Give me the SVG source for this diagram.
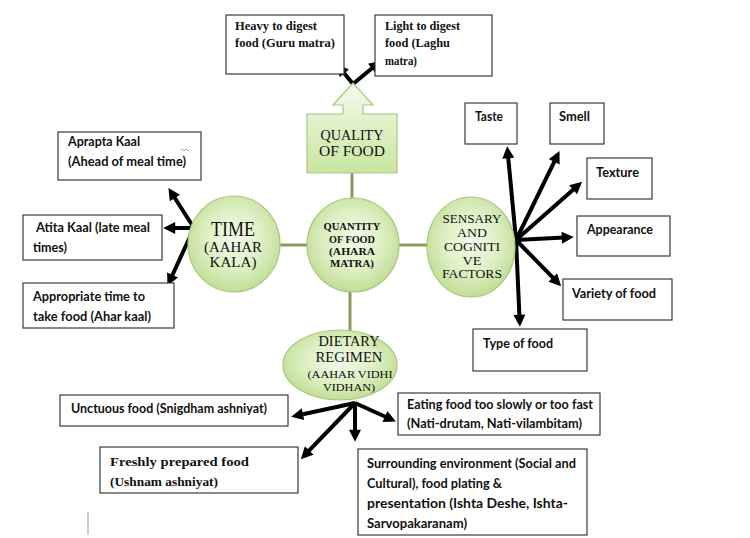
<svg xmlns="http://www.w3.org/2000/svg" width="750" height="538" viewBox="0 0 750 538">
<defs>
<radialGradient id="gc" cx="50%" cy="45%" r="55%">
<stop offset="0" stop-color="#f3fae8"/>
<stop offset="0.55" stop-color="#dff0c6"/>
<stop offset="1" stop-color="#c0de95"/>
</radialGradient>
<linearGradient id="gq" x1="0" y1="0" x2="0" y2="1">
<stop offset="0" stop-color="#f4fbec"/>
<stop offset="1" stop-color="#c8e69f"/>
</linearGradient>
<marker id="ah" viewBox="0 0 10 10" refX="6" refY="5" markerWidth="3.4" markerHeight="3" markerUnits="strokeWidth" orient="auto">
<path d="M0,0 L10,5 L0,10 z" fill="#000"/>
</marker>
<style>
.box{fill:#fff;stroke:#3a3a3a;stroke-width:1.2}
.green{fill:url(#gc);stroke:#a8c77e;stroke-width:1.2}
.t{font-family:Lato,"Noto Sans","Liberation Sans",sans-serif;font-weight:bold;font-size:14px;fill:#111}
.ts{font-family:"Liberation Serif","Times New Roman",serif;font-weight:bold;font-size:13px;fill:#111}
.c{font-family:"Liberation Serif","Times New Roman",serif;fill:#111;text-anchor:middle}
.conn{stroke:#8c9a5e;stroke-width:3;fill:none}
.arr{stroke:#000;stroke-width:4;fill:none;marker-end:url(#ah)}
</style>
</defs>
<rect width="750" height="538" fill="#fff"/>

<g id="connectors">
<line class="conn" x1="352" y1="173" x2="352" y2="200"/>
<line class="conn" x1="350" y1="290" x2="350" y2="332"/>
<line class="conn" x1="279" y1="245" x2="308" y2="245"/>
<line class="conn" x1="399" y1="245" x2="428" y2="245"/>
<line class="arr" x1="353" y1="84" x2="339.8" y2="67.7"/>
<line class="arr" x1="353" y1="84" x2="377.4" y2="63.8"/>
<line class="arr" x1="194" y1="228" x2="171" y2="192"/>
<line class="arr" x1="194" y1="228" x2="168" y2="228"/>
<line class="arr" x1="194" y1="228" x2="169.5" y2="281.5"/>
<line class="arr" x1="516" y1="240" x2="507.6" y2="151"/>
<line class="arr" x1="516" y1="240" x2="557.4" y2="155.4"/>
<line class="arr" x1="516" y1="240" x2="578.5" y2="185"/>
<line class="arr" x1="516" y1="240" x2="569" y2="237.3"/>
<line class="arr" x1="516" y1="240" x2="557.8" y2="282.7"/>
<line class="arr" x1="516" y1="240" x2="519.7" y2="322"/>
<line class="arr" x1="355" y1="403" x2="295.9" y2="415.7"/>
<line class="arr" x1="355" y1="403" x2="304.2" y2="455.7"/>
<line class="arr" x1="355" y1="403" x2="355" y2="437"/>
<line class="arr" x1="355" y1="403" x2="391.5" y2="419.5"/>
</g>

<g id="quality">
<path d="M307,114 L343,114 L343,105 L333,105 L353,83 L373,105 L363,105 L363,114 L397,114 L397,173 L307,173 Z" fill="url(#gq)" stroke="#a8c77e" stroke-width="1.2"/>
<text class="c" font-size="15" x="352" y="140" textLength="63" lengthAdjust="spacingAndGlyphs">QUALITY</text>
<text class="c" font-size="15" x="352" y="156" textLength="66" lengthAdjust="spacingAndGlyphs">OF FOOD</text>
</g>

<g id="heavy">
<rect class="box" x="226" y="15" width="118" height="59"/>
<text class="ts" x="235" y="30" textLength="82" lengthAdjust="spacingAndGlyphs">Heavy to digest</text>
<text class="ts" x="235" y="47" textLength="100" lengthAdjust="spacingAndGlyphs">food (Guru matra)</text>
</g>
<g id="light">
<rect class="box" x="375" y="15" width="117" height="61"/>
<text class="ts" x="385" y="30" textLength="75" lengthAdjust="spacingAndGlyphs">Light to digest</text>
<text class="ts" x="385" y="47" textLength="65" lengthAdjust="spacingAndGlyphs">food (Laghu</text>
<text class="ts" x="385" y="65" textLength="32" lengthAdjust="spacingAndGlyphs">matra)</text>
</g>

<g id="time">
<ellipse class="green" cx="234" cy="244" rx="46" ry="48"/>
<text class="c" font-size="20" x="233" y="236" textLength="44" lengthAdjust="spacingAndGlyphs">TIME</text>
<text class="c" font-size="14" x="233" y="252" textLength="58" lengthAdjust="spacingAndGlyphs">(AAHAR</text>
<text class="c" font-size="14" x="233" y="267" textLength="47" lengthAdjust="spacingAndGlyphs">KALA)</text>
</g>

<g id="quantity">
<ellipse class="green" cx="353" cy="245" rx="46" ry="47"/>
<text class="c" font-size="11" font-weight="bold" x="352" y="230" textLength="57" lengthAdjust="spacingAndGlyphs">QUANTITY</text>
<text class="c" font-size="11" font-weight="bold" x="352" y="243" textLength="46" lengthAdjust="spacingAndGlyphs">OF FOOD</text>
<text class="c" font-size="11" font-weight="bold" x="352" y="255" textLength="46" lengthAdjust="spacingAndGlyphs">(AHARA</text>
<text class="c" font-size="11" font-weight="bold" x="352" y="267" textLength="44" lengthAdjust="spacingAndGlyphs">MATRA)</text>
</g>

<g id="sensory">
<ellipse class="green" cx="471" cy="247" rx="44" ry="50"/>
<text class="c" font-size="12.5" x="472" y="223" textLength="59" lengthAdjust="spacingAndGlyphs">SENSARY</text>
<text class="c" font-size="12.5" x="472" y="237" textLength="30" lengthAdjust="spacingAndGlyphs">AND</text>
<text class="c" font-size="12.5" x="472" y="250.5" textLength="56" lengthAdjust="spacingAndGlyphs">COGNITI</text>
<text class="c" font-size="12.5" x="472" y="264.5" textLength="19" lengthAdjust="spacingAndGlyphs">VE</text>
<text class="c" font-size="12.5" x="472" y="278" textLength="60" lengthAdjust="spacingAndGlyphs">FACTORS</text>
</g>

<g id="dietary">
<ellipse class="green" cx="340" cy="365" rx="57" ry="35"/>
<text class="c" font-size="14" x="349" y="346" textLength="61" lengthAdjust="spacingAndGlyphs">DIETARY</text>
<text class="c" font-size="14" x="349" y="362" textLength="67" lengthAdjust="spacingAndGlyphs">REGIMEN</text>
<text class="c" font-size="11" x="350" y="378" textLength="85" lengthAdjust="spacingAndGlyphs">(AAHAR VIDHI</text>
<text class="c" font-size="11" x="349" y="391" textLength="52" lengthAdjust="spacingAndGlyphs">VIDHAN)</text>
</g>

<g id="aprapta">
<rect class="box" x="58" y="132" width="143" height="48"/>
<text class="t" x="68" y="146" textLength="72" lengthAdjust="spacingAndGlyphs">Aprapta Kaal</text>
<text class="t" x="68" y="166" textLength="118" lengthAdjust="spacingAndGlyphs">(Ahead of meal time)</text>
<path d="M181,150 q1,-2 2,0 t2,0 t2,0 t2,0" stroke="#6f8fd8" stroke-width="0.8" fill="none"/>
</g>
<g id="atita">
<rect class="box" x="23" y="215" width="139" height="45"/>
<text class="t" x="36" y="232" textLength="114" lengthAdjust="spacingAndGlyphs">Atita Kaal (late meal</text>
<text class="t" x="33" y="252" textLength="34" lengthAdjust="spacingAndGlyphs">times)</text>
</g>
<g id="appropriate">
<rect class="box" x="23" y="283" width="151" height="45"/>
<text class="t" x="33" y="301" textLength="112" lengthAdjust="spacingAndGlyphs">Appropriate time to</text>
<text class="t" x="33" y="321" textLength="118" lengthAdjust="spacingAndGlyphs">take food (Ahar kaal)</text>
</g>

<g id="taste">
<rect class="box" x="465" y="103" width="52" height="41"/>
<text class="t" x="475" y="121" textLength="28" lengthAdjust="spacingAndGlyphs">Taste</text>
</g>
<g id="smell">
<rect class="box" x="550" y="103" width="54" height="41"/>
<text class="t" x="559" y="121" textLength="31" lengthAdjust="spacingAndGlyphs">Smell</text>
</g>
<g id="texture">
<rect class="box" x="587" y="158" width="65" height="41"/>
<text class="t" x="596" y="177" textLength="43" lengthAdjust="spacingAndGlyphs">Texture</text>
</g>
<g id="appearance">
<rect class="box" x="577" y="216" width="93" height="40"/>
<text class="t" x="587" y="234" textLength="66" lengthAdjust="spacingAndGlyphs">Appearance</text>
</g>
<g id="variety">
<rect class="box" x="563" y="279" width="109" height="41"/>
<text class="t" x="572" y="298" textLength="84" lengthAdjust="spacingAndGlyphs">Variety of food</text>
</g>
<g id="type">
<rect class="box" x="473" y="329" width="114" height="42"/>
<text class="t" x="483" y="348" textLength="70" lengthAdjust="spacingAndGlyphs">Type of food</text>
</g>

<g id="unctuous">
<rect class="box" x="60" y="395" width="228" height="31"/>
<text class="t" x="71" y="413" textLength="196" lengthAdjust="spacingAndGlyphs">Unctuous food (Snigdham ashniyat)</text>
</g>
<g id="freshly">
<rect class="box" x="100" y="447" width="198" height="46"/>
<text class="ts" font-size="15.5" x="110" y="466" textLength="139" lengthAdjust="spacingAndGlyphs">Freshly prepared food</text>
<text class="ts" font-size="15.5" x="110" y="486" textLength="108" lengthAdjust="spacingAndGlyphs">(Ushnam ashniyat)</text>
</g>
<g id="eating">
<rect class="box" x="398" y="393" width="202" height="42"/>
<text class="t" x="407" y="409" textLength="186" lengthAdjust="spacingAndGlyphs">Eating food too slowly or too fast</text>
<text class="t" x="407" y="428" textLength="175" lengthAdjust="spacingAndGlyphs">(Nati-drutam, Nati-vilambitam)</text>
</g>
<g id="surrounding">
<rect class="box" x="358" y="449" width="229" height="86"/>
<text class="t" x="367" y="468" textLength="209" lengthAdjust="spacingAndGlyphs">Surrounding environment (Social and</text>
<text class="t" x="367" y="488" textLength="135" lengthAdjust="spacingAndGlyphs">Cultural), food plating &amp;</text>
<text class="t" x="367" y="508" textLength="201" lengthAdjust="spacingAndGlyphs">presentation (Ishta Deshe, Ishta-</text>
<text class="t" x="367" y="528" textLength="100" lengthAdjust="spacingAndGlyphs">Sarvopakaranam)</text>
</g>

<line x1="88" y1="512" x2="88" y2="535" stroke="#9a9a9a" stroke-width="1"/>
</svg>
